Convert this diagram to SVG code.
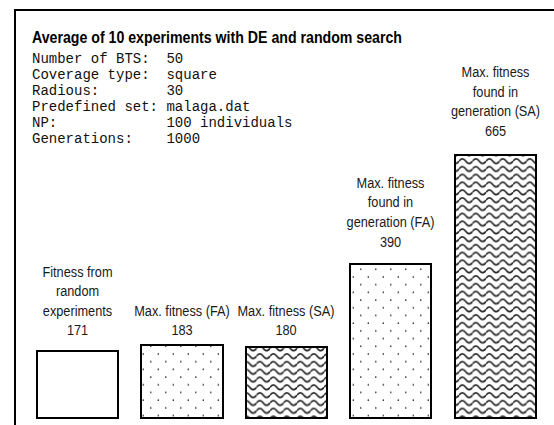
<svg xmlns="http://www.w3.org/2000/svg" width="554" height="425" viewBox="0 0 554 425">
  <style>
    .frame { fill: none; stroke: #000; stroke-width: 2; }
    .bar { stroke: #000; stroke-width: 2; }
    .title { font-family: "Liberation Sans", Arial, sans-serif; font-weight: bold; font-size: 16px; fill: #000; }
    .mono { font-family: "Liberation Mono", "Courier New", monospace; font-size: 14px; fill: #111; }
    .lbl { font-family: "Liberation Sans", Arial, sans-serif; font-size: 15px; fill: #1a1a1a; text-anchor: middle; }
  </style>
  <defs>
    <!-- staggered dot fill -->
    <pattern id="dots" patternUnits="userSpaceOnUse" x="141" y="350" width="15" height="15.4">
      <rect x="0" y="0" width="15" height="15.4" fill="#fff"/>
      <circle cx="2.3" cy="4" r="0.8" fill="#222"/>
      <circle cx="9.8" cy="11.7" r="0.8" fill="#222"/>
    </pattern>
    <!-- wavy line fill -->
    <pattern id="waves" patternUnits="userSpaceOnUse" x="0" y="0" width="13.5" height="7.8">
      <rect x="0" y="0" width="13.5" height="7.8" fill="#fff"/>
      <path d="M0,5.2 Q3.375,0.6 6.75,5.2 T13.5,5.2" fill="none" stroke="#2a2a2a" stroke-width="1.7"/>
      <path d="M0,-2.6 Q3.375,-7.2 6.75,-2.6 T13.5,-2.6" fill="none" stroke="#2a2a2a" stroke-width="1.7"/>
      <path d="M0,13 Q3.375,8.4 6.75,13 T13.5,13" fill="none" stroke="#2a2a2a" stroke-width="1.7"/>
    </pattern>
  </defs>

  <!-- chart frame: left and top rules -->
  <path class="frame" d="M15,425 V10 H554"/>

  <!-- heading and run parameters -->
  <g id="header">
    <text class="title" x="32" y="43" textLength="370" lengthAdjust="spacingAndGlyphs">Average of 10 experiments with DE and random search</text>
    <text class="mono" x="32" y="63" xml:space="preserve">Number of BTS:  50</text>
    <text class="mono" x="32" y="79" xml:space="preserve">Coverage type:  square</text>
    <text class="mono" x="32" y="95" xml:space="preserve">Radious:        30</text>
    <text class="mono" x="32" y="111" xml:space="preserve">Predefined set: malaga.dat</text>
    <text class="mono" x="32" y="127" xml:space="preserve">NP:             100 individuals</text>
    <text class="mono" x="32" y="143" xml:space="preserve">Generations:    1000</text>
  </g>

  <g id="bar-random">
    <rect class="bar" x="37" y="351" width="81" height="67" fill="#fff"/>
    <g transform="translate(77.5,0) scale(0.85,1)">
      <text class="lbl" x="0" y="277">Fitness from</text>
      <text class="lbl" x="0" y="296.5">random</text>
      <text class="lbl" x="0" y="316">experiments</text>
      <text class="lbl" x="0" y="335">171</text>
    </g>
  </g>

  <g id="bar-max-fa">
    <rect class="bar" x="141" y="345" width="82" height="73" fill="url(#dots)"/>
    <g transform="translate(182,0) scale(0.85,1)">
      <text class="lbl" x="0" y="316">Max. fitness (FA)</text>
      <text class="lbl" x="0" y="335">183</text>
    </g>
  </g>

  <g id="bar-max-sa">
    <rect class="bar" x="246" y="347" width="81" height="71" fill="url(#waves)"/>
    <g transform="translate(286,0) scale(0.85,1)">
      <text class="lbl" x="0" y="316">Max. fitness (SA)</text>
      <text class="lbl" x="0" y="335">180</text>
    </g>
  </g>

  <g id="bar-gen-fa">
    <rect class="bar" x="350" y="264" width="81" height="154" fill="url(#dots)"/>
    <g transform="translate(390.5,0) scale(0.85,1)">
      <text class="lbl" x="0" y="188">Max. fitness</text>
      <text class="lbl" x="0" y="207.5">found in</text>
      <text class="lbl" x="0" y="227">generation (FA)</text>
      <text class="lbl" x="0" y="247">390</text>
    </g>
  </g>

  <g id="bar-gen-sa">
    <rect class="bar" x="455" y="155" width="81" height="263" fill="url(#waves)"/>
    <g transform="translate(495.5,0) scale(0.85,1)">
      <text class="lbl" x="0" y="77.5">Max. fitness</text>
      <text class="lbl" x="0" y="97">found in</text>
      <text class="lbl" x="0" y="116.5">generation (SA)</text>
      <text class="lbl" x="0" y="136">665</text>
    </g>
  </g>
</svg>
